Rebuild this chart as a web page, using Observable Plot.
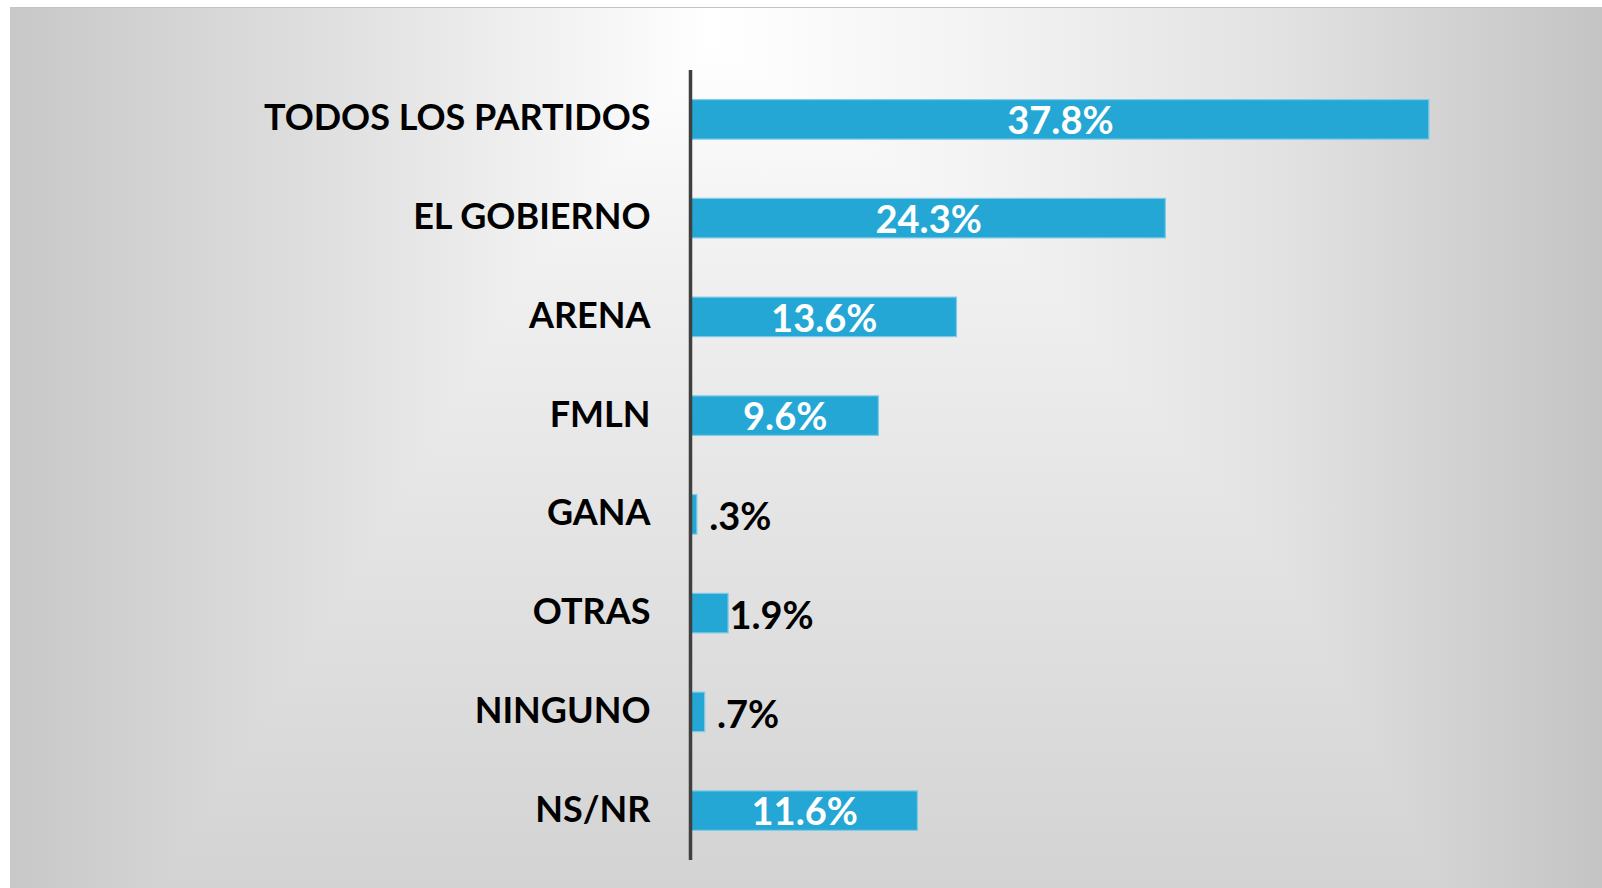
<!DOCTYPE html>
<html>
<head>
<meta charset="utf-8">
<script src="https://cdn.jsdelivr.net/npm/d3@7"></script>
<script src="https://cdn.jsdelivr.net/npm/@observablehq/plot@0.6"></script>
<style>
  html, body { margin: 0; padding: 0; background: #ffffff; overflow: hidden; }
  #wrap { position: relative; width: 1602px; height: 888px; }
  #panel {
    position: absolute; left: 10px; top: 7px; right: 0; bottom: 0;
    border-top: 1px solid #c4c4c4; border-left: 1px solid #c9c9c9;
    background:
      linear-gradient(to right, #c8c8c8 0%, #e2e2e2 22%, #ffffff 44%, #f2f2f2 62%, #e2e2e2 80%, #c4c4c4 100%),
      linear-gradient(to bottom, #ffffff 4%, #f0f0f0 30%, #d3d3d3 100%);
    background-blend-mode: darken;
  }
  #chart { position: absolute; left: 0; top: 0; }
</style>
</head>
<body>
<div id="wrap"><div id="panel"></div><div id="chart"></div></div>
<script>
const categories = ["TODOS LOS PARTIDOS", "EL GOBIERNO", "ARENA", "FMLN", "GANA", "OTRAS", "NINGUNO", "NS/NR"];
const values = [37.8, 24.3, 13.6, 9.6, 0.3, 1.9, 0.7, 11.6];
const valueLabels = ["37.8%", "24.3%", "13.6%", "9.6%", ".3%", "1.9%", ".7%", "11.6%"];

const data = categories.map((c, i) => ({category: c, value: values[i], label: valueLabels[i]}));
const inside = data.filter(d => d.value >= 5);
const outside = data.filter(d => d.value < 5);

const font = "Lato, 'Open Sans', sans-serif";

const chart = Plot.plot({
  width: 1602,
  height: 888,
  marginLeft: 691,
  marginRight: 130.2,
  marginTop: 70,
  marginBottom: 28,
  style: {background: "transparent", fontFamily: font},
  x: {domain: [0, 40], axis: null},
  y: {domain: categories, paddingInner: 0.6, paddingOuter: 0.3, round: false, label: null},
  marks: [
    Plot.barX(data, {x: "value", y: "category", fill: "#24a7d4", stroke: "#7ccbe8", strokeWidth: 1.2}),
    Plot.ruleX([0], {stroke: "#3f3f3f", strokeWidth: 3.5, dx: -1}),
    Plot.axisY({tickSize: 0, tickPadding: 41, fontSize: 36, fontWeight: "bold", fill: "#000000", label: null, dy: -1}),
    Plot.text(inside, {x: d => d.value / 2, y: "category", text: "label", fill: "#ffffff", fontSize: 38, fontWeight: "bold", dy: 2}),
    Plot.text(outside, {x: "value", y: "category", text: "label", fill: "#000000", fontSize: 38, fontWeight: "bold", dx: 43, dy: 3})
  ]
});
document.getElementById("chart").appendChild(chart);
</script>
</body>
</html>
